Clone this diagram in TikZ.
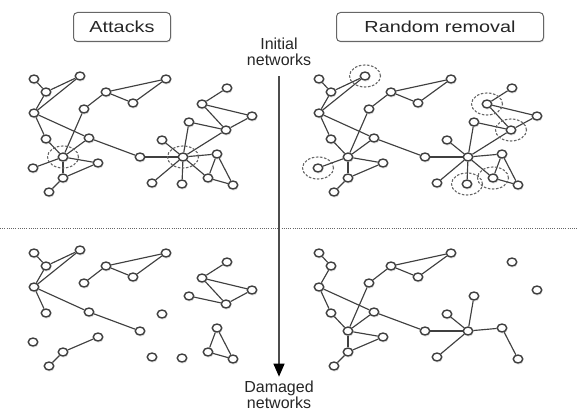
\documentclass[tikz,border=0pt]{standalone}
\usepackage{fontspec}
\setmainfont{Liberation Sans}
\usepackage{graphicx}
\usetikzlibrary{positioning, shapes.geometric, arrows.meta, shadows}

% node / x / y / survives attack / survives random removal
\newcommand{\netnodes}{1/34/79/1/1, 2/46/92/1/1, 3/80/76/1/0, 4/34/113/1/1,
  5/84/109/1/1, 6/106/92/1/1, 7/166/79/1/1, 8/133/103/1/1, 9/46/139/1/1,
  10/89/138/1/1, 11/63/157/0/1, 12/33/168/1/0, 13/98/163/1/1, 14/63/178/1/1,
  15/49/192/1/1, 16/140/157/1/1, 17/183/157/0/1, 18/162/140/1/1,
  19/189/122/1/1, 20/202/104/1/0, 21/227/88/1/1, 22/252/116/1/1,
  23/226/130/1/0, 24/217/154/1/1, 25/152/183/1/1, 26/182/184/1/0,
  27/208/178/1/0, 28/233/185/1/1}
\newcommand{\alllinks}{1/2, 2/3, 2/4, 3/4, 4/9, 4/10, 10/16, 9/11, 10/11,
  5/11, 5/6, 6/7, 6/8, 7/8, 11/12, 11/13, 11/14, 13/14, 14/15, 16/17,
  17/18, 17/19, 17/23, 17/24, 17/25, 17/26, 17/27, 19/23, 20/21, 20/22,
  20/23, 22/23, 24/27, 24/28, 27/28}

\begin{document}
\begin{tikzpicture}[x=1pt, y=1pt,
  vertex/.style={ellipse, draw=black!75, line width=1.4pt, fill=white,
    minimum width=9.5pt, minimum height=8pt, inner sep=0pt,
    drop shadow={opacity=0.25, shadow xshift=0.6pt, shadow yshift=-1.6pt}},
  link/.style={draw=black!75, line width=1.15pt},
  hit/.style={ellipse, draw=black!60, line width=1.1pt, dash pattern=on 2.5pt off 1.6pt,
    minimum width=31pt, minimum height=22pt, inner sep=0pt},
  tag/.style={draw=black!60, line width=1pt, rounded corners=4pt, fill=white,
    minimum height=29pt, inner sep=0pt, text=black!85,
    font=\fontsize{16}{18}\selectfont,
    drop shadow={opacity=0.2, shadow xshift=0.8pt, shadow yshift=-1.2pt}},
  caption/.style={align=center, text=black!85, inner sep=1pt,
    font=\fontsize{16}{16.5}\selectfont}
  ]
  \useasboundingbox (0,0) rectangle (577,-414);

  \node[tag, minimum width=97pt] (attacks) at (122,-27) {\scalebox{1.24}[1]{Attacks}};
  \node[tag, minimum width=207pt] (random) at (440,-27) {\scalebox{1.24}[1]{Random removal}};

  % initial networks
  \begin{scope}
    \foreach \n/\x/\y/\a/\r in \netnodes
      \node[vertex] (IA\n) at (\x,-\y) {};
    \foreach \u/\v in \alllinks
      \draw[link] (IA\u) -- (IA\v);
    \foreach \n in {11,17}
      \node[hit] (ringA\n) at (IA\n) {};
  \end{scope}
  \begin{scope}[shift={(285,0)}]
    \foreach \n/\x/\y/\a/\r in \netnodes
      \node[vertex] (IR\n) at (\x,-\y) {};
    \foreach \u/\v in \alllinks
      \draw[link] (IR\u) -- (IR\v);
    \foreach \n in {3,12,20,23,26,27}
      \node[hit] (ringR\n) at (IR\n) {};
  \end{scope}

  % damaged networks
  \begin{scope}[shift={(0,-174)}]
    \foreach \n/\x/\y/\a/\r in \netnodes
      {\ifnum\a=1 \node[vertex] (DA\n) at (\x,-\y) {}; \fi}
    \foreach \u/\v in {1/2, 2/3, 2/4, 3/4, 4/9, 4/10, 10/16, 5/6, 6/7, 6/8,
      7/8, 13/14, 14/15, 19/23, 20/21, 20/22, 20/23, 22/23, 24/27, 24/28, 27/28}
      \draw[link] (DA\u) -- (DA\v);
  \end{scope}
  \begin{scope}[shift={(285,-174)}]
    \foreach \n/\x/\y/\a/\r in \netnodes
      {\ifnum\r=1 \node[vertex] (DR\n) at (\x,-\y) {}; \fi}
    \foreach \u/\v in {1/2, 2/4, 4/9, 4/10, 10/16, 9/11, 10/11, 5/11, 5/6,
      6/7, 6/8, 7/8, 11/13, 11/14, 13/14, 14/15, 16/17, 17/18, 17/19, 17/24,
      17/25, 24/28}
      \draw[link] (DR\u) -- (DR\v);
  \end{scope}

  % divider and time arrow
  \coordinate (divL) at (0,-228);
  \coordinate (divR) at (577,-228);
  \draw[black!60, line width=1pt, dash pattern=on 1pt off 1.2pt] (divL) -- (divR);

  \node[caption] (initial) at (279,-52) {Initial\\networks};
  \node[caption] (damaged) at (279,-395) {Damaged\\networks};
  \draw[black!70, line width=1.3pt, -{Triangle[black, width=11pt, length=13pt]},
    shorten <=9pt, shorten >=3pt] (initial) -- (damaged);
\end{tikzpicture}
\end{document}
